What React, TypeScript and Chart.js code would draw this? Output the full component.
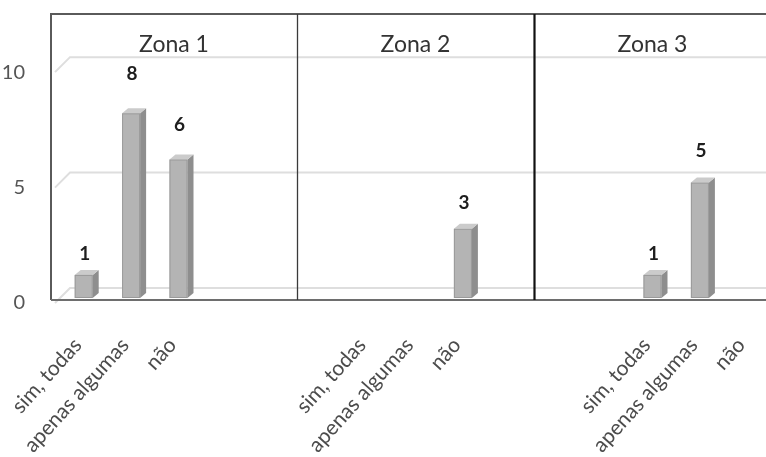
import React, { useEffect, useRef } from "react";
import { Chart, registerables } from "chart.js";

Chart.register(...registerables);

// Zone headings and answer options
const zones = ["Zona 1", "Zona 2", "Zona 3"];
const slotsPerZone = 5;

// Category slots per zone (empty slots keep the zone spacing)
const zone1Labels = ["sim, todas", "apenas algumas", "não", "", ""];
const zone2Labels = ["", "sim, todas", "apenas algumas", "não", ""];
const zone3Labels = ["", "", "sim, todas", "apenas algumas", "não"];

// Answer counts (null = no answer recorded)
const zone1Values = [1, 8, 6, null, null];
const zone2Values = [null, null, null, 3, null];
const zone3Values = [null, null, 1, 5, null];

// Y axis ticks
const yTicks = [0, 5, 10];
const yMax = 12;

const labels = [...zone1Labels, ...zone2Labels, ...zone3Labels];
const values = [...zone1Values, ...zone2Values, ...zone3Values];

const FONT = "Lato, 'Open Sans', sans-serif";
const DEPTH_X = 6;
const DEPTH_Y = 5;

const noScalePadding = (scale: any) => {
  scale.paddingLeft = 0;
  scale.paddingRight = 0;
  scale.paddingTop = 0;
  scale.paddingBottom = 0;
};

const backWallPlugin = {
  id: "backWall",
  beforeDatasetsDraw(chart: any) {
    const { ctx, chartArea, scales } = chart;
    const y = scales.y;
    ctx.save();
    ctx.strokeStyle = "#dedede";
    ctx.lineWidth = 2;
    yTicks.forEach((v) => {
      const py = y.getPixelForValue(v);
      ctx.beginPath();
      ctx.moveTo(chartArea.left - 5, py + 5);
      ctx.lineTo(chartArea.left + 10, py - 10);
      ctx.lineTo(chart.width, py - 10);
      ctx.stroke();
    });
    ctx.restore();
  },
};

const bar3dPlugin = {
  id: "bar3d",
  afterDatasetsDraw(chart: any) {
    const { ctx } = chart;
    const meta = chart.getDatasetMeta(0);
    ctx.save();
    meta.data.forEach((bar: any, i: number) => {
      if (values[i] == null) return;
      const { x, y, base, width } = bar.getProps(["x", "y", "base", "width"], true);
      const left = x - width / 2;
      const right = x + width / 2;
      // side face
      ctx.fillStyle = "#8e8e8e";
      ctx.beginPath();
      ctx.moveTo(right, y);
      ctx.lineTo(right + DEPTH_X, y - DEPTH_Y);
      ctx.lineTo(right + DEPTH_X, base - DEPTH_Y);
      ctx.lineTo(right, base);
      ctx.closePath();
      ctx.fill();
      // top face
      ctx.fillStyle = "#cbcbcb";
      ctx.beginPath();
      ctx.moveTo(left, y);
      ctx.lineTo(left + DEPTH_X, y - DEPTH_Y);
      ctx.lineTo(right + DEPTH_X, y - DEPTH_Y);
      ctx.lineTo(right, y);
      ctx.closePath();
      ctx.fill();
      // outline of the front face
      ctx.strokeStyle = "#9a9a9a";
      ctx.lineWidth = 1;
      ctx.strokeRect(left + 0.5, y + 0.5, width - 1, base - y - 1);
    });
    ctx.restore();
  },
};

const frameAndLabelsPlugin = {
  id: "frameAndLabels",
  afterDraw(chart: any) {
    const { ctx, chartArea, scales } = chart;
    const xs = scales.x;
    const frameLeft = chartArea.left - 9;
    const frameTop = chartArea.top - 7;
    const frameBottom = chartArea.bottom + 2;
    ctx.save();

    // outer frame
    ctx.strokeStyle = "#5a5a5a";
    ctx.lineWidth = 2;
    ctx.beginPath();
    ctx.moveTo(chart.width, frameTop);
    ctx.lineTo(frameLeft, frameTop);
    ctx.lineTo(frameLeft, frameBottom);
    ctx.stroke();
    ctx.strokeStyle = "#6e6e6e";
    ctx.beginPath();
    ctx.moveTo(frameLeft, frameBottom);
    ctx.lineTo(chart.width, frameBottom);
    ctx.stroke();

    // zone dividers
    const bounds: number[] = [frameLeft];
    for (let z = 1; z < zones.length; z++) {
      const a = xs.getPixelForValue(z * slotsPerZone - 1);
      const b = xs.getPixelForValue(z * slotsPerZone);
      bounds.push((a + b) / 2);
    }
    bounds.push(chartArea.right);
    for (let z = 1; z < zones.length; z++) {
      ctx.strokeStyle = z === 1 ? "#3a3a3a" : "#111111";
      ctx.lineWidth = z === 1 ? 1.3 : 2.2;
      ctx.beginPath();
      ctx.moveTo(Math.round(bounds[z]) + 0.5, frameTop);
      ctx.lineTo(Math.round(bounds[z]) + 0.5, frameBottom);
      ctx.stroke();
    }

    // zone titles
    ctx.fillStyle = "#333333";
    ctx.font = `23px ${FONT}`;
    ctx.textAlign = "center";
    ctx.textBaseline = "middle";
    zones.forEach((name, z) => {
      ctx.fillText(name, (bounds[z] + bounds[z + 1]) / 2, chartArea.top + 24);
    });

    // value labels, lifted with the perspective of the bar
    const meta = chart.getDatasetMeta(0);
    ctx.fillStyle = "#1e1e1e";
    ctx.font = `bold 19px ${FONT}`;
    meta.data.forEach((bar: any, i: number) => {
      const v = values[i];
      if (v == null) return;
      const { x, y, base } = bar.getProps(["x", "y", "base"], true);
      const ly = y - 18 - 0.117 * (base - y);
      ctx.fillText(String(v), x + 1, ly);
    });
    ctx.restore();
  },
};

export default function App() {
  const canvasRef = useRef<HTMLCanvasElement | null>(null);

  useEffect(() => {
    const canvas = canvasRef.current;
    if (!canvas) return;
    const chart = new Chart(canvas, {
      type: "bar",
      data: {
        labels,
        datasets: [
          {
            data: values as any,
            backgroundColor: "#b4b4b4",
            borderWidth: 0,
            categoryPercentage: 1,
            barPercentage: 0.38,
          },
        ],
      },
      options: {
        responsive: false,
        animation: false,
        devicePixelRatio: 1,
        layout: { padding: { top: 21, right: 9, left: 0, bottom: 0 } },
        plugins: {
          legend: { display: false },
          tooltip: { enabled: false },
        },
        scales: {
          x: {
            grid: { display: false },
            border: { display: false },
            ticks: {
              autoSkip: false,
              maxRotation: 48,
              minRotation: 48,
              padding: 27,
              labelOffset: -6,
              color: "#4c4c4c",
              font: { family: FONT, size: 21 },
            },
            afterFit(scale: any) {
              scale.height = 159;
              noScalePadding(scale);
            },
          },
          y: {
            min: 0,
            max: yMax,
            grid: { display: false },
            border: { display: false },
            ticks: {
              stepSize: 5,
              includeBounds: false,
              padding: 27,
              labelOffset: 5,
              color: "#555555",
              font: { family: FONT, size: 20 },
            },
            afterFit(scale: any) {
              scale.width = 60;
              noScalePadding(scale);
            },
          },
        },
      },
      plugins: [backWallPlugin, bar3dPlugin, frameAndLabelsPlugin],
    });
    return () => chart.destroy();
  }, []);

  return (
    <div
      style={{
        position: "fixed",
        left: 0,
        top: 0,
        width: 766,
        height: 457,
        overflow: "hidden",
        background: "#ffffff",
      }}
    >
      <canvas ref={canvasRef} width={780} height={457} style={{ display: "block" }} />
    </div>
  );
}
